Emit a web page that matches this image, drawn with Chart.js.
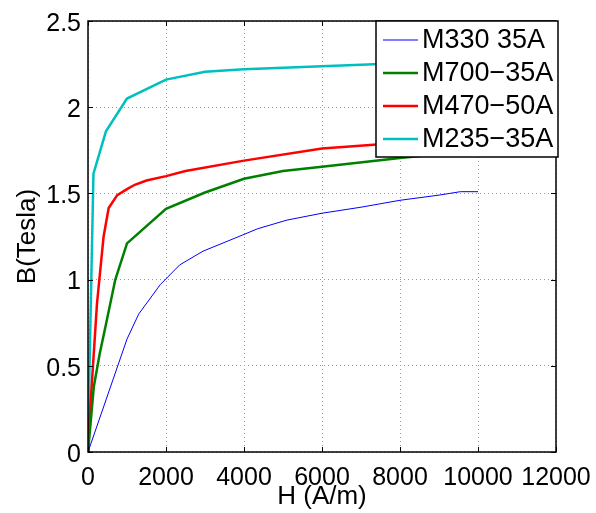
<!DOCTYPE html>
<html lang="en">
<head>
<meta charset="UTF-8">
<title>B-H curves</title>
<script src="https://cdn.jsdelivr.net/npm/chart.js"></script>
<style>
    html, body { margin: 0; padding: 0; background: #fff; }
</style>
</head>
<body>
<canvas id="bhChart" width="596" height="513"></canvas>
<script>
// H (A/m) and B (T), one pair of arrays per steel grade
const h330 = [0, 1000, 1300, 1850, 2350, 2950, 4000, 4350, 5100, 6000, 7000, 8000, 9000, 9550, 10000];
const b330 = [0, 0.655, 0.80, 0.97, 1.085, 1.165, 1.262, 1.295, 1.345, 1.385, 1.42, 1.46, 1.49, 1.51, 1.51];

const h700 = [0, 150, 300, 450, 700, 1000, 2000, 3000, 4000, 5000, 6000, 8000, 10000];
const b700 = [0, 0.38, 0.57, 0.73, 1.0, 1.21, 1.41, 1.505, 1.585, 1.63, 1.655, 1.705, 1.75];

const h470 = [0, 20, 230, 400, 530, 750, 1000, 1200, 1500, 2000, 2500, 4000, 6000, 7500, 10000];
const b470 = [0, 0.12, 0.86, 1.25, 1.415, 1.49, 1.525, 1.55, 1.575, 1.60, 1.63, 1.69, 1.76, 1.785, 1.82];

const h235 = [0, 15, 140, 460, 1000, 2000, 3000, 4000, 6000, 7500, 10000];
const b235 = [0, 0.23, 1.615, 1.86, 2.05, 2.16, 2.205, 2.22, 2.237, 2.25, 2.26];

const labels = ['M330 35A', 'M700\u221235A', 'M470\u221250A', 'M235\u221235A'];
const xTicks = [0, 2000, 4000, 6000, 8000, 10000, 12000];
const yTicks = [0, 0.5, 1, 1.5, 2, 2.5];

const FONT = '"Liberation Sans", Arial, Helvetica, sans-serif';

function pts(hs, bs) {
    return hs.map((h, i) => ({ x: h, y: bs[i] }));
}

// box, inward ticks and the legend, drawn on top of the curves like MATLAB does
const frame = {
    id: 'frame',
    afterDatasetsDraw(chart) {
        const { ctx, chartArea: a, scales } = chart;
        ctx.save();
        ctx.strokeStyle = '#000';
        ctx.lineWidth = 1;
        const tl = 5;
        ctx.beginPath();
        xTicks.forEach(v => {
            const px = Math.round(scales.x.getPixelForValue(v)) + 0.5;
            ctx.moveTo(px, a.bottom); ctx.lineTo(px, a.bottom - tl);
            ctx.moveTo(px, a.top); ctx.lineTo(px, a.top + tl);
        });
        yTicks.forEach(v => {
            const py = Math.round(scales.y.getPixelForValue(v)) + 0.5;
            ctx.moveTo(a.left, py); ctx.lineTo(a.left + tl, py);
            ctx.moveTo(a.right, py); ctx.lineTo(a.right - tl, py);
        });
        ctx.stroke();

        ctx.lineWidth = 1.5;
        ctx.strokeRect(a.left, a.top, a.right - a.left, a.bottom - a.top);

        // legend, north-east corner
        const lx = a.right - 180, ly = a.top, lw = 182, lh = 136;
        ctx.fillStyle = '#fff';
        ctx.fillRect(lx, ly, lw, lh);
        ctx.lineWidth = 1.5;
        ctx.strokeRect(lx, ly, lw, lh);
        ctx.font = '27px ' + FONT;
        ctx.textBaseline = 'middle';
        ctx.textAlign = 'left';
        chart.data.datasets.forEach((ds, i) => {
            const y = ly + 19 + i * 33;
            ctx.strokeStyle = ds.borderColor;
            ctx.lineWidth = ds.borderWidth;
            ctx.beginPath();
            ctx.moveTo(lx + 7, y);
            ctx.lineTo(lx + 42, y);
            ctx.stroke();
            ctx.fillStyle = '#000';
            ctx.fillText(ds.label, lx + 46, y + 1);
        });
        ctx.restore();
    }
};

new Chart(document.getElementById('bhChart'), {
    type: 'line',
    data: {
        datasets: [
            { label: labels[0], data: pts(h330, b330), borderColor: 'rgb(0,0,255)', borderWidth: 1 },
            { label: labels[1], data: pts(h700, b700), borderColor: 'rgb(0,128,0)', borderWidth: 2.5 },
            { label: labels[2], data: pts(h470, b470), borderColor: 'rgb(255,0,0)', borderWidth: 2.5 },
            { label: labels[3], data: pts(h235, b235), borderColor: 'rgb(0,191,191)', borderWidth: 2.5 }
        ]
    },
    options: {
        responsive: false,
        animation: false,
        layout: { padding: { top: 21, right: 40, left: 0, bottom: 0 } },
        elements: {
            point: { radius: 0 },
            line: { tension: 0, fill: false }
        },
        plugins: {
            legend: { display: false },
            tooltip: { enabled: false }
        },
        scales: {
            x: {
                type: 'linear',
                min: 0,
                max: 12000,
                afterFit(s) { s.height = 61; s.paddingLeft = 0; s.paddingRight = 0; },
                afterBuildTicks(s) { s.ticks = xTicks.map(v => ({ value: v })); },
                ticks: {
                    autoSkip: false,
                    maxRotation: 0,
                    padding: 11,
                    color: '#000',
                    font: { family: FONT, size: 25 },
                    callback: v => String(v)
                },
                grid: { color: '#999', drawTicks: false },
                border: { display: false, dash: [1, 3] },
                title: {
                    display: true,
                    text: 'H (A/m)',
                    color: '#000',
                    font: { family: FONT, size: 26 },
                    padding: { top: 0, bottom: 1 }
                }
            },
            y: {
                type: 'linear',
                min: 0,
                max: 2.5,
                afterFit(s) { s.width = 88; s.paddingTop = 0; s.paddingBottom = 0; },
                afterBuildTicks(s) { s.ticks = yTicks.map(v => ({ value: v })); },
                ticks: {
                    padding: 7,
                    labelOffset: 3,
                    color: '#000',
                    font: { family: FONT, size: 25 },
                    callback: v => String(v)
                },
                grid: { color: '#999', drawTicks: false },
                border: { display: false, dash: [1, 3] },
                title: {
                    display: true,
                    text: 'B(Tesla)',
                    color: '#000',
                    font: { family: FONT, size: 26 },
                    padding: { top: 12, bottom: 0 }
                }
            }
        }
    },
    plugins: [frame]
});
</script>
</body>
</html>
